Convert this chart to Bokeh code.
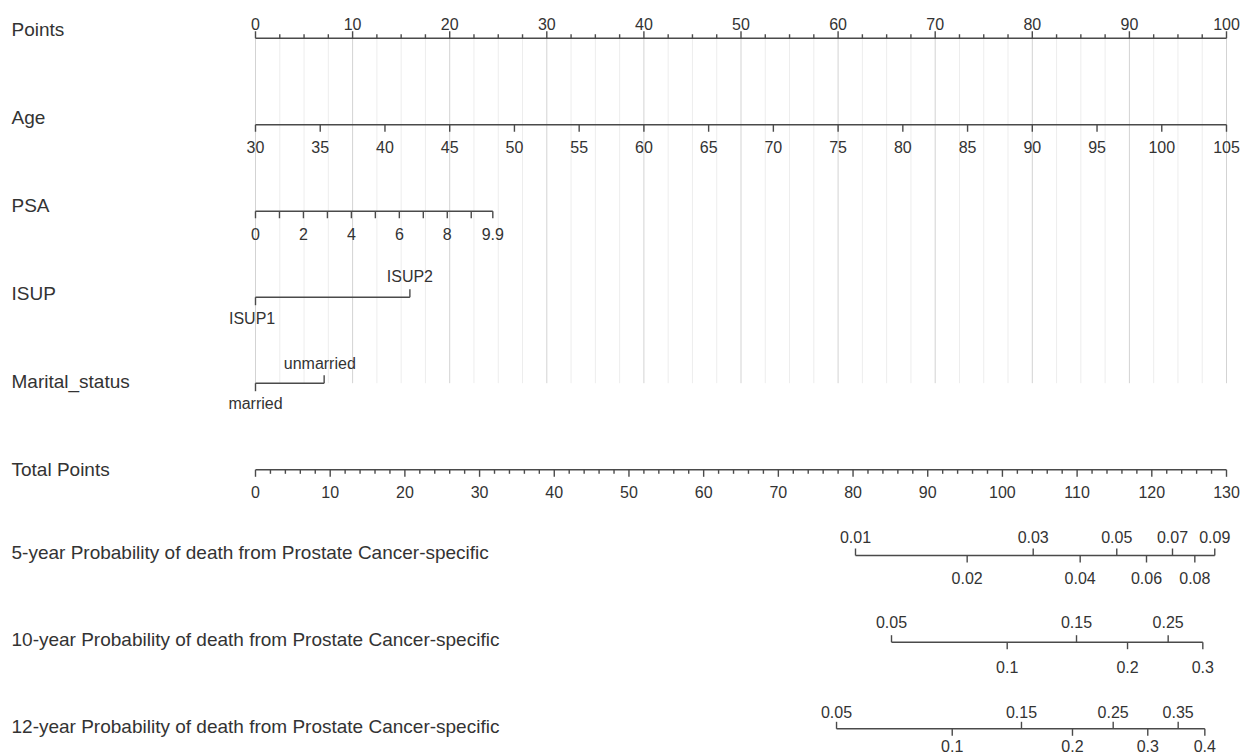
from bokeh.plotting import figure
from bokeh.models import Range1d
from bokeh.embed import file_html
from bokeh.resources import INLINE
from bokeh.core.properties import value

# ---------------- data ----------------
row_names = [
    "Points", "Age", "PSA", "ISUP", "Marital_status", "Total Points",
    "5-year Probability of death from Prostate Cancer-specific",
    "10-year Probability of death from Prostate Cancer-specific",
    "12-year Probability of death from Prostate Cancer-specific",
]

points_ticks = [i * 2.5 for i in range(41)]
points_labels = list(range(0, 101, 10))

age_values = list(range(30, 106, 5))
age_range = [30, 105]          # maps to points 0 .. 100
age_points_range = [0, 100]

psa_values = [0, 1, 2, 3, 4, 5, 6, 7, 8, 9, 9.9]
psa_labelled = [0, 2, 4, 6, 8, 9.9]
psa_points_range = [0, 24.44]  # PSA 0 -> 0 pts, 9.9 -> 24.44 pts

isup_levels = ["ISUP1", "ISUP2"]
isup_points = [0, 15.9]

marital_levels = ["married", "unmarried"]
marital_points = [0, 7.07]

total_ticks = list(range(0, 131, 2))
total_labels = list(range(0, 131, 10))
total_max = 130

p5_values = ["0.01", "0.02", "0.03", "0.04", "0.05", "0.06", "0.07", "0.08", "0.09"]
p5_total = [80.33, 95.28, 104.12, 110.41, 115.31, 119.29, 122.77, 125.76, 128.43]

p10_values = ["0.05", "0.1", "0.15", "0.2", "0.25", "0.3"]
p10_total = [85.15, 100.64, 109.92, 116.75, 122.19, 126.83]

p12_values = ["0.05", "0.1", "0.15", "0.2", "0.25", "0.3", "0.35", "0.4"]
p12_total = [77.79, 93.28, 102.55, 109.38, 114.83, 119.46, 123.53, 127.10]

# ---------------- layout (page pixels) ----------------
W, H = 1240, 754
OFF = 0                          # frame origin on the page
PX0, PX100 = 255, 1226           # page x of 0 and 100 points
scale = (PX100 - PX0) / 100.0
x_start = -(PX0 - OFF) / scale
x_end = x_start + W / scale

line_y = [37.7, 124.3, 210.7, 296.7, 382.7, 469.3, 555.0, 641.7, 728.3]
name_y = [29.3, 116.7, 205.0, 292.7, 381.0, 469.3, 551.7, 639.0, 725.7]
up_lab = {0: 23.3, 3: 276.0, 4: 362.7, 6: 536.7, 7: 621.0, 8: 711.7}
dn_lab = {1: 146.7, 2: 233.3, 3: 318.0, 4: 403.0, 5: 491.0, 6: 577.3, 7: 666.0, 8: 745.5}

TEXT = "#333333"
LINE = "#4a4a4a"
FONT = value("Liberation Sans")
TICK_FS = "16px"
NAME_FS = "19px"

p = figure(width=W, height=H, output_backend="svg", toolbar_location=None,
           x_range=Range1d(x_start, x_end), y_range=Range1d(OFF + H, OFF),
           min_border=0, outline_line_color=None)
p.axis.visible = False
p.grid.visible = False
p.background_fill_color = "white"
p.border_fill_color = "white"


def lin(v, src, dst):
    return dst[0] + (v - src[0]) * (dst[1] - dst[0]) / (src[1] - src[0])


def px_to_x(px):
    return x_start + (px - OFF) / scale


# grid lines behind everything
minor_grid = [t for t in points_ticks if t % 10 != 0]
major_grid = [t for t in points_ticks if t % 10 == 0]
p.segment(x0=minor_grid, y0=[line_y[0]] * len(minor_grid), x1=minor_grid,
          y1=[line_y[4]] * len(minor_grid), line_color="#ededed", line_width=1)
p.segment(x0=major_grid, y0=[line_y[0]] * len(major_grid), x1=major_grid,
          y1=[line_y[4]] * len(major_grid), line_color="#d3d3d3", line_width=1)


def hline(x0, x1, y):
    p.segment(x0=[x0], y0=[y], x1=[x1], y1=[y], line_color=LINE, line_width=1.4)


def ticks(xs, y, length):
    p.segment(x0=xs, y0=[y] * len(xs), x1=xs, y1=[y + length] * len(xs),
              line_color=LINE, line_width=1.4)


def labels(xs, y, txt, size=TICK_FS, align="center"):
    p.text(x=xs, y=[y] * len(xs), text=txt, text_align=align,
           text_baseline="middle", text_font=FONT, text_font_size=size,
           text_color=TEXT)


# row names
p.text(x=[px_to_x(11)] * len(row_names), y=name_y, text=row_names,
       text_align="left", text_baseline="middle", text_font=FONT,
       text_font_size=NAME_FS, text_color=TEXT)

# Points
y = line_y[0]
hline(0, 100, y)
ticks([t for t in points_ticks if t % 10 == 0], y, -7)
ticks([t for t in points_ticks if t % 10 != 0], y, -4)
labels(points_labels, up_lab[0], [str(v) for v in points_labels])

# Age
y = line_y[1]
age_x = [lin(a, age_range, age_points_range) for a in age_values]
hline(age_x[0], age_x[-1], y)
ticks(age_x, y, 7)
labels(age_x, dn_lab[1], [str(a) for a in age_values])

# PSA
y = line_y[2]
psa_x = [lin(v, [0, 9.9], psa_points_range) for v in psa_values]
hline(psa_x[0], psa_x[-1], y)
ticks(psa_x, y, 7)
labels([lin(v, [0, 9.9], psa_points_range) for v in psa_labelled], dn_lab[2],
       [("%g" % v) for v in psa_labelled])

# ISUP
y = line_y[3]
hline(isup_points[0], isup_points[1], y)
ticks([isup_points[0]], y, 8)
ticks([isup_points[1]], y, -8)
labels([isup_points[0] - 0.35], dn_lab[3], [isup_levels[0]])
labels([isup_points[1]], up_lab[3], [isup_levels[1]])

# Marital status
y = line_y[4]
hline(marital_points[0], marital_points[1], y)
ticks([marital_points[0]], y, 8)
ticks([marital_points[1]], y, -8)
labels([marital_points[0]], dn_lab[4], [marital_levels[0]])
labels([marital_points[1] - 0.45], up_lab[4], [marital_levels[1]])

# Total points
y = line_y[5]
tx = lambda t: t * 100.0 / total_max
hline(0, 100, y)
ticks([tx(t) for t in total_ticks if t % 10 == 0], y, 7)
ticks([tx(t) for t in total_ticks if t % 10 != 0], y, 4)
labels([tx(t) for t in total_labels], dn_lab[5], [str(t) for t in total_labels])


# Probability axes
def prob_axis(row, vals, tots):
    y = line_y[row]
    xs = [tx(t) for t in tots]
    hline(xs[0], xs[-1], y)
    upx = xs[0::2]
    dnx = xs[1::2]
    ticks(upx, y, -7)
    ticks(dnx, y, 7)
    labels(upx, up_lab[row], vals[0::2])
    labels(dnx, dn_lab[row], vals[1::2])


prob_axis(6, p5_values, p5_total)
prob_axis(7, p10_values, p10_total)
prob_axis(8, p12_values, p12_total)

open("out.html", "w").write(file_html(p, INLINE))
